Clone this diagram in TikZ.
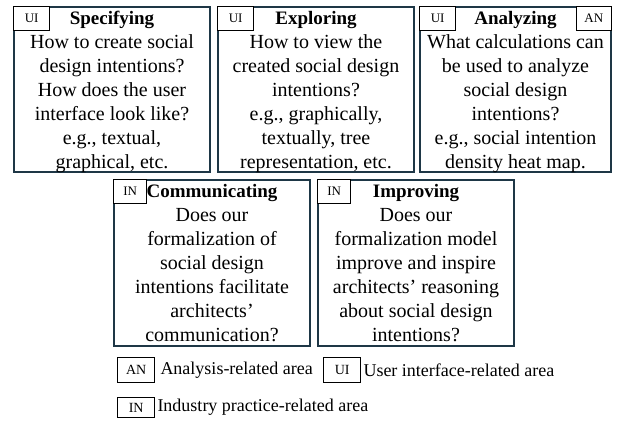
\documentclass[tikz,border=0pt]{standalone}
\usepackage{fontspec}
\setmainfont{Liberation Serif}
\definecolor{slatenavy}{RGB}{30,55,70}
\usetikzlibrary{positioning}

\begin{document}
\begin{tikzpicture}[x=1pt,y=-1pt,node distance=6pt]
  \tikzstyle{area}=[rectangle,draw=slatenavy,line width=2pt,minimum width=196pt,minimum height=165pt,anchor=north west,inner sep=0pt]
  \tikzstyle{question}=[align=center,inner sep=0pt,anchor=north,font=\fontsize{20}{24}\selectfont]
  \tikzstyle{tag}=[rectangle,draw=black,fill=white,line width=1.3pt,minimum width=36pt,minimum height=24pt,inner sep=0pt,font=\fontsize{13}{15}\selectfont]
  \tikzstyle{keytag}=[tag,minimum width=37pt,minimum height=25pt,font=\fontsize{14}{16}\selectfont]
  \tikzstyle{keytext}=[inner sep=0pt,anchor=west,font=\fontsize{18}{21}\selectfont]
  \newcommand{\heading}[1]{{\fontsize{19}{24}\selectfont\bfseries #1}}

  \useasboundingbox (0,0) rectangle (620,422);

  % top row
  \node[area] (spec) at (13,6) {};
  \node[area,right=of spec] (expl) {};
  \node[area,minimum width=191pt,right=4pt of expl] (anal) {};

  \node[question] (spectxt) at ([yshift=-5pt]spec.north) {\heading{Specifying}\\How to create social\\design intentions?\\How does the user\\interface look like?\\e.g., textual,\\graphical, etc.};
  \node[question] (expltxt) at ([yshift=-5pt]expl.north) {\heading{Exploring}\\How to view the\\created social design\\intentions?\\e.g., graphically,\\textually, tree\\representation, etc.};
  \node[question] (analtxt) at ([yshift=-5pt]anal.north) {\heading{Analyzing}\\What calculations can\\be used to analyze\\social design\\intentions?\\e.g., social intention\\density heat map.};

  \node[tag,anchor=north west] (spectag) at (spec.north west) {UI};
  \node[tag,anchor=north west] (expltag) at (expl.north west) {UI};
  \node[tag,anchor=north west] (analtag) at (anal.north west) {UI};
  \node[tag,minimum width=35pt,anchor=north east] (analtag2) at (anal.north east) {AN};

  % bottom row
  \node[area,minimum height=166pt] (comm) at (113,179) {};
  \node[area,minimum height=166pt,right=of comm] (impr) {};

  \node[question] (commtxt) at ([yshift=-5pt]comm.north) {\heading{Communicating}\\Does our\\formalization of\\social design\\intentions facilitate\\architects’\\communication?};
  \node[question] (imprtxt) at ([yshift=-5pt]impr.north) {\heading{Improving}\\Does our\\formalization model\\improve and inspire\\architects’ reasoning\\about social design\\intentions?};

  \node[tag,minimum width=33pt,anchor=north west] (commtag) at (comm.north west) {IN};
  \node[tag,minimum width=33pt,anchor=north west] (imprtag) at (impr.north west) {IN};

  % legend
  \node[keytag,anchor=north west] (ankey) at (117,357) {AN};
  \node[keytext,right=5pt of ankey] (antext) {Analysis-related area};
  \node[keytag,anchor=north west] (uikey) at (323,357) {UI};
  \node[keytext,right=2pt of uikey] (uitext) {User interface-related area};
  \node[keytag,minimum height=20pt,anchor=north west] (inkey) at (117,397) {IN};
  \node[keytext,right=2pt of inkey] (intext) {Industry practice-related area};
\end{tikzpicture}
\end{document}
